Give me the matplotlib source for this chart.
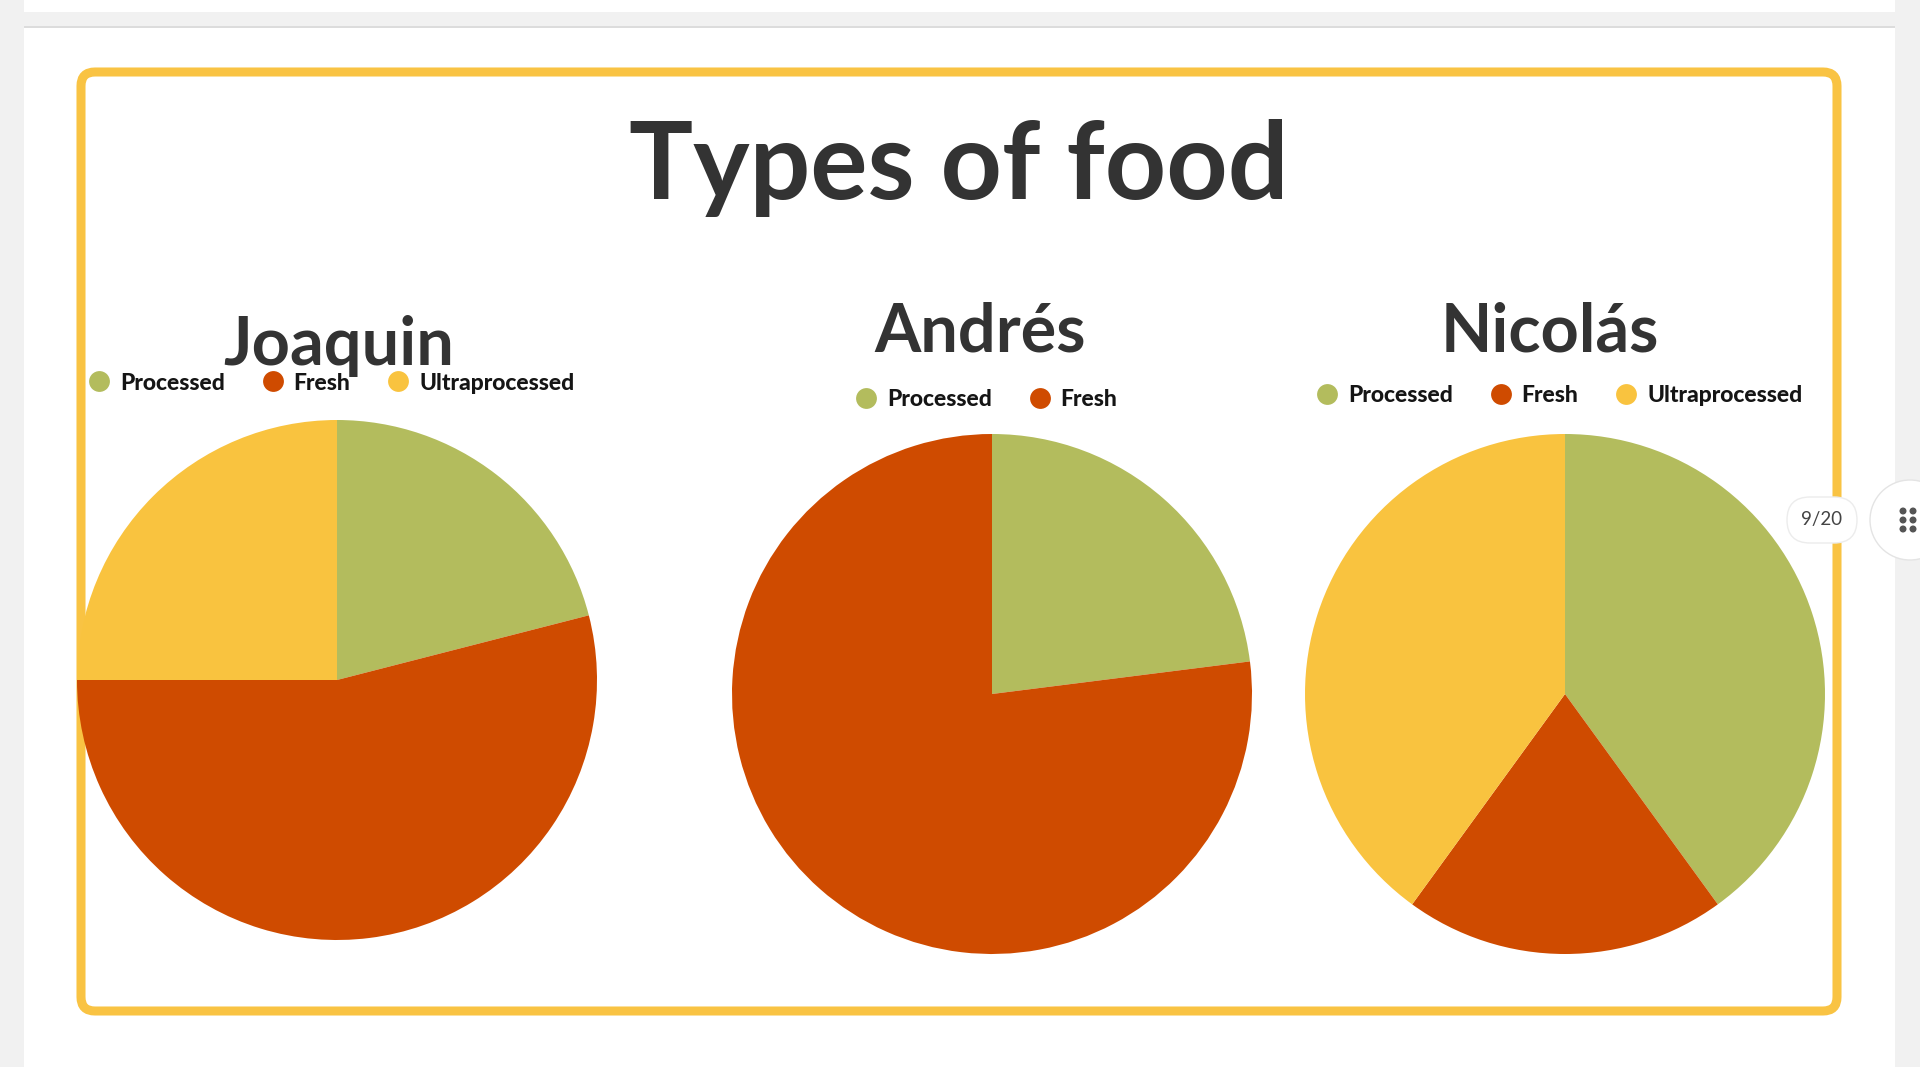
import matplotlib.pyplot as plt
from matplotlib.patches import FancyBboxPatch, Rectangle, Circle
from matplotlib.lines import Line2D

# values (percent of each pie)
names = ["Joaquin", "Andrés", "Nicolás"]
categories = ["Processed", "Fresh", "Ultraprocessed"]
joaquin = [21, 54, 25]
andres = [23, 77]
nicolas = [40, 20, 40]
page_label = "9/20"

colors = ["#B3BC5D", "#CF4B00", "#F9C33F"]
fonts = ["Lato", "DejaVu Sans"]
W, H = 1920, 1067

fig = plt.figure(figsize=(W / 100, H / 100), dpi=100)
fig.patch.set_facecolor("#F1F1F1")

# background axes in pixel coordinates (y going down)
bg = fig.add_axes([0, 0, 1, 1])
bg.set_xlim(0, W)
bg.set_ylim(H, 0)
bg.axis("off")

# page area
bg.add_patch(Rectangle((24, 0), 1871, 12, color="white", lw=0))
bg.add_patch(Rectangle((24, 26), 1871, 3, color="#DCDCDC", lw=0))
bg.add_patch(Rectangle((24, 28), 1871, H - 28, color="white", lw=0))

# yellow rounded frame
bg.add_patch(FancyBboxPatch((81, 72), 1756, 939,
                            boxstyle="round,pad=0,rounding_size=14",
                            fc="none", ec="#F9C343", lw=6.5))

bg.text(959, 168, "Types of food", ha="center", va="center", fontsize=77,
        fontweight="bold", color="#333333", family=fonts)


def pie_axes(cx, cy, r):
    return fig.add_axes([(cx - r) / W, 1 - (cy + r) / H, 2 * r / W, 2 * r / H])


def draw(values, name, center, title_xy, legend_xy):
    ax = pie_axes(center[0], center[1], 260)
    ax.pie(values, colors=colors[:len(values)], startangle=90,
           counterclock=False, radius=1, wedgeprops=dict(linewidth=0))
    ax.set_xlim(-1, 1)
    ax.set_ylim(-1, 1)
    bg.text(title_xy[0], title_xy[1], name, ha="center", va="center",
            fontsize=48, fontweight="bold", color="#333333", family=fonts)
    handles = [Line2D([], [], marker="o", ls="none", ms=15, color=c,
                      markeredgewidth=0)
               for c in colors[:len(values)]]
    leg = fig.legend(handles, categories[:len(values)], loc="center",
                     bbox_to_anchor=(legend_xy[0] / W, 1 - legend_xy[1] / H),
                     ncol=len(values), frameon=False, borderpad=0,
                     handlelength=1, handletextpad=0.4, columnspacing=1.6,
                     prop=dict(family=fonts, weight="black", size=16.5))
    for t in leg.get_texts():
        t.set_color("#151515")


draw(joaquin, names[0], (337, 680), (339, 346), (331, 383))
draw(andres, names[1], (992, 694), (980, 332), (986, 400))
draw(nicolas, names[2], (1565, 694), (1550, 332), (1559, 396))

# page counter pill and menu button on the right
top = fig.add_axes([0, 0, 1, 1])
top.set_xlim(0, W)
top.set_ylim(H, 0)
top.axis("off")
top.add_patch(FancyBboxPatch((1787, 497), 70, 46,
                             boxstyle="round,pad=0,rounding_size=23",
                             fc="white", ec="#ECECEC", lw=1))
top.text(1822, 520, page_label, ha="center", va="center", fontsize=13.5,
         color="#444444", family=fonts)
top.add_patch(Circle((1910, 520), 40, fc="white", ec="#E4E4E4", lw=1))
for dx in (-5, 5):
    for dy in (-9, 0, 9):
        top.add_patch(Circle((1908 + dx, 520 + dy), 2.8, color="#555555"))

fig.savefig("out.png", dpi=100)
